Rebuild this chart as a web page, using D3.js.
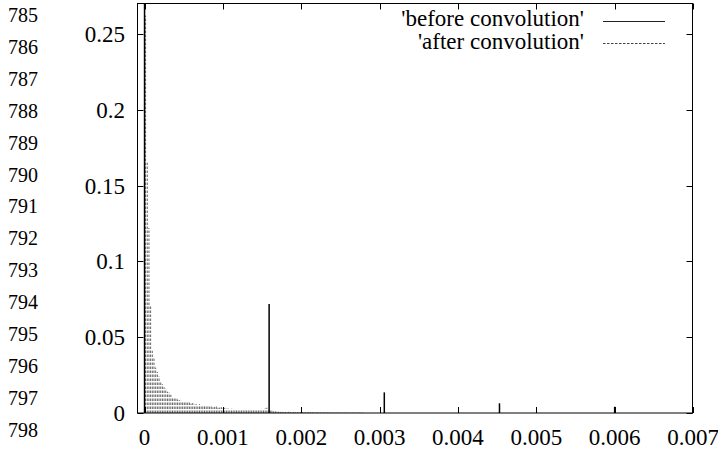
<!DOCTYPE html>
<html>
<head>
<meta charset="utf-8">
<script src="https://cdn.jsdelivr.net/npm/d3@7/dist/d3.min.js"></script>
</head>
<body style="margin:0">
<svg id="chart" width="718" height="450"></svg>
<script>
// ---- data ----
const lineNumbers = [785, 786, 787, 788, 789, 790, 791, 792, 793, 794, 795, 796, 797, 798];
const xTicks = [0, 0.001, 0.002, 0.003, 0.004, 0.005, 0.006, 0.007];
const xTickLabels = ["0", "0.001", "0.002", "0.003", "0.004", "0.005", "0.006", "0.007"];
const yTicks = [0, 0.05, 0.1, 0.15, 0.2, 0.25];
const yTickLabels = ["0", "0.05", "0.1", "0.15", "0.2", "0.25"];
const seriesNames = ["'before convolution'", "'after convolution'"];

// before convolution: impulse positions and heights
const beforeX = [0, 0.00159, 0.00306, 0.00453, 0.006];
const beforeY = [0.30, 0.0718, 0.0136, 0.0064, 0.0041];

const afterStart = 0.000013;
const afterStep = 0.0000215;
const afterY = [
  0.262, 0.165, 0.122, 0.071, 0.041, 0.036, 0.030, 0.027, 0.024, 0.021,
  0.019, 0.017, 0.016, 0.014, 0.0135, 0.012, 0.0105, 0.010, 0.0095, 0.009,
  0.0085, 0.008, 0.0078, 0.0075, 0.007, 0.0068, 0.007, 0.0062, 0.0066, 0.0055,
  0.006, 0.005, 0.0058, 0.0048, 0.0052, 0.0045, 0.0044, 0.005, 0.0042, 0.0046,
  0.0038, 0.004, 0.0043, 0.0035, 0.0036, 0.0038, 0.003, 0.0034, 0.0028, 0.003,
  0.0026, 0.0028, 0.0024, 0.0026, 0.0022, 0.0025, 0.0022, 0.0024, 0.002, 0.0022,
  0.002, 0.0021, 0.0019, 0.002, 0.0018, 0.0021, 0.0017, 0.0019, 0.0018, 0.002,
  0.0025, 0.003, 0.0035, 0.002, 0.0025, 0.0015, 0.001, 0.0012, 0.0008, 0.0009,
  0.0007, 0.0008, 0.0006, 0.0007, 0.0005, 0.0008, 0.0006, 0.0005, 0.0007, 0.0005,
  0.0006, 0.0004, 0.0005, 0.0006, 0.0004, 0.0005, 0.0004, 0.0006, 0.0004, 0.0005,
  0.0004, 0.0003, 0.0005, 0.0003, 0.0004, 0.0003, 0.0004, 0.0003, 0.0003, 0.0004,
  0.0003, 0.0003, 0.0002, 0.0003, 0.0003, 0.0002, 0.0003, 0.0002, 0.0002, 0.0003,
  0.0002, 0.0002, 0.0002, 0.0003, 0.0002, 0.0002, 0.0002, 0.0002, 0.0002, 0.0002
];

const fontChoices = ["Liberation Serif"];

(function () {
const fam = () => `"${fontChoices[0]}", monospace`;
const svg = d3.select("#chart");
const pLeft = 137.5, pRight = 692.5, pTop = 3.5, pBottom = 413;
const x = d3.scaleLinear().domain([-0.00009, 0.007]).range([pLeft, 693]);
const y = d3.scaleLinear().domain([0, 0.27]).range([pBottom, pTop]);
const tickLen = 6;
const fontSize = 23;

svg.append("defs").append("clipPath").attr("id", "clip")
  .append("rect").attr("x", pLeft).attr("y", pTop).attr("width", pRight - pLeft).attr("height", pBottom - pTop);

// impulses
const plot = svg.append("g").attr("clip-path", "url(#clip)");

const afterData = afterY.map((v, i) => ({ x: afterStart + i * afterStep, y: v }));
plot.append("g").selectAll("line").data(afterData).join("line")
  .attr("x1", d => x(d.x)).attr("x2", d => x(d.x))
  .attr("y1", y(0)).attr("y2", d => y(d.y))
  .attr("stroke", "#666")
  .attr("stroke-width", 1)
  .attr("stroke-dasharray", "2.5,1.5");

const beforeData = beforeX.map((v, i) => ({ x: v, y: beforeY[i] }));
plot.append("g").selectAll("line").data(beforeData).join("line")
  .attr("x1", d => x(d.x)).attr("x2", d => x(d.x))
  .attr("y1", y(0)).attr("y2", d => y(d.y))
  .attr("stroke", "#000")
  .attr("stroke-width", 1.5);

// frame
svg.append("rect")
  .attr("x", pLeft).attr("y", pTop).attr("width", pRight - pLeft).attr("height", pBottom - pTop)
  .attr("fill", "none").attr("stroke", "#000").attr("stroke-width", 1);

// ticks (inward, mirrored)
const tg = svg.append("g").attr("stroke", "#000").attr("stroke-width", 1);
xTicks.forEach(t => {
  const px = Math.round(x(t)) + 0.5;
  tg.append("line").attr("x1", px).attr("x2", px).attr("y1", pBottom).attr("y2", pBottom - tickLen);
  tg.append("line").attr("x1", px).attr("x2", px).attr("y1", pTop).attr("y2", pTop + tickLen);
});
yTicks.forEach(t => {
  const py = Math.round(y(t)) + 0.5;
  tg.append("line").attr("x1", pLeft).attr("x2", pLeft + tickLen).attr("y1", py).attr("y2", py);
  tg.append("line").attr("x1", pRight).attr("x2", pRight - tickLen).attr("y1", py).attr("y2", py);
});

// line numbers at the far left
svg.selectAll("text.ln").data(lineNumbers).join("text")
  .attr("class", "ln")
  .attr("x", 8)
  .attr("y", (d, i) => 22 + i * 31.9)
  .attr("font-size", 20)
  .style("font-family", fam)
  .text(d => d);

// tick labels
svg.selectAll("text.xt").data(xTicks).join("text")
  .attr("class", "xt")
  .attr("x", d => x(d))
  .attr("y", 445)
  .attr("text-anchor", "middle")
  .attr("font-size", fontSize)
  .style("font-family", fam)
  .text((d, i) => xTickLabels[i]);

svg.selectAll("text.yt").data(yTicks).join("text")
  .attr("class", "yt")
  .attr("x", 125)
  .attr("y", d => y(d) + 8)
  .attr("text-anchor", "end")
  .attr("font-size", fontSize)
  .style("font-family", fam)
  .text((d, i) => yTickLabels[i]);

// legend
svg.selectAll("text.lg").data(seriesNames).join("text")
  .attr("class", "lg")
  .attr("x", 584)
  .attr("y", (d, i) => 26 + i * 23)
  .attr("text-anchor", "end")
  .attr("font-size", 23)
  .style("font-family", fam)
  .text(d => d);
svg.append("line").attr("x1", 603).attr("x2", 665).attr("y1", 21.5).attr("y2", 21.5)
  .attr("stroke", "#222").attr("stroke-width", 1.2);
svg.append("line").attr("x1", 603).attr("x2", 665).attr("y1", 43.5).attr("y2", 43.5)
  .attr("stroke", "#444").attr("stroke-width", 1).attr("stroke-dasharray", "2.5,1.5");
})();
</script>
</body>
</html>
